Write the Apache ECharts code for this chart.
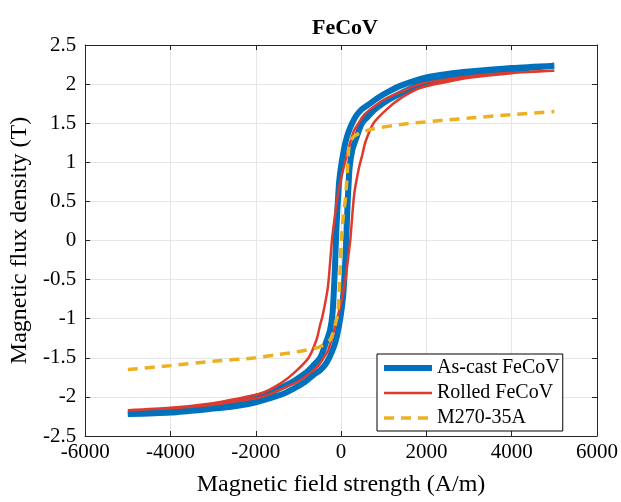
<!DOCTYPE html>
<html>
<head>
<meta charset="utf-8">
<script src="https://cdn.jsdelivr.net/npm/echarts@6/dist/echarts.min.js"></script>
<style>
html,body{margin:0;padding:0;background:#fff;}
#chart{width:621px;height:502px;}
</style>
</head>
<body>
<div id="chart"></div>
<script>
// Axis ticks
const xTicks = [-6000, -4000, -2000, 0, 2000, 4000, 6000];
const yTicks = [-2.5, -2, -1.5, -1, -0.5, 0, 0.5, 1, 1.5, 2, 2.5];
const seriesNames = ['As-cast FeCoV', 'Rolled FeCoV', 'M270-35A'];

// As-cast FeCoV: descending branch (H from +5000 to -5000)
const asCastDesc = [[5000,2.235],[4000,2.205],[3000,2.16],[2500,2.13],[2000,2.085],[1400,1.98],[1100,1.9],[850,1.82],[650,1.74],[490,1.68],[360,1.6],[260,1.5],[170,1.38],[105,1.26],[45,1.1],[0,0.95],[-45,0.75],[-75,0.5],[-100,0.25],[-120,0],[-140,-0.3],[-165,-0.6],[-200,-0.93],[-260,-1.15],[-338,-1.28],[-490,-1.5],[-690,-1.62],[-800,-1.68],[-1150,-1.81],[-1770,-1.96],[-2500,-2.06],[-3500,-2.15],[-5000,-2.22]];
// As-cast FeCoV: ascending branch (H from -5000 to +5000)
const asCastAsc = [[-5000,-2.22],[-4000,-2.2],[-3000,-2.15],[-2500,-2.12],[-2000,-2.07],[-1400,-1.97],[-1100,-1.89],[-850,-1.81],[-650,-1.72],[-490,-1.66],[-360,-1.58],[-260,-1.48],[-170,-1.36],[-105,-1.24],[-45,-1.08],[0,-0.93],[45,-0.73],[75,-0.5],[100,-0.25],[120,0],[140,0.3],[165,0.6],[200,0.93],[260,1.15],[338,1.28],[490,1.5],[690,1.62],[800,1.68],[1150,1.81],[1770,1.97],[2500,2.07],[3500,2.16],[5000,2.235]];

// Rolled FeCoV
const rolledDesc = [[5000,2.17],[4000,2.145],[3000,2.1],[2500,2.06],[1850,2.0],[1400,1.9],[1000,1.8],[690,1.68],[530,1.6],[410,1.5],[300,1.4],[220,1.26],[140,1.1],[60,0.93],[-20,0.75],[-100,0.5],[-160,0.25],[-215,0],[-260,-0.3],[-310,-0.6],[-420,-0.93],[-500,-1.1],[-570,-1.26],[-760,-1.5],[-1075,-1.68],[-1400,-1.82],[-1850,-1.95],[-2500,-2.03],[-3000,-2.08],[-4000,-2.14],[-5000,-2.17]];
const rolledAsc = [[-5000,-2.17],[-4000,-2.145],[-3000,-2.1],[-2500,-2.06],[-1850,-2.0],[-1400,-1.9],[-1000,-1.8],[-690,-1.68],[-530,-1.6],[-410,-1.5],[-300,-1.4],[-220,-1.26],[-140,-1.1],[-60,-0.93],[20,-0.75],[100,-0.5],[160,-0.25],[215,0],[260,0.3],[310,0.6],[420,0.93],[500,1.1],[570,1.26],[760,1.5],[1075,1.68],[1400,1.82],[1850,1.95],[2500,2.03],[3000,2.08],[4000,2.14],[5000,2.17]];

// M270-35A
const m270 = [[-5000,-1.65],[-4000,-1.6],[-3000,-1.545],[-2000,-1.5],[-1500,-1.46],[-1100,-1.43],[-800,-1.4],[-550,-1.37],[-400,-1.33],[-245,-1.26],[-150,-1.1],[-75,-0.92],[-28,-0.46],[5,0],[50,0.3],[105,0.55],[150,0.9],[182,1.18],[230,1.27],[300,1.33],[500,1.39],[765,1.43],[1500,1.49],[2550,1.545],[3000,1.565],[4000,1.61],[5000,1.65]];

const FONT = '"Liberation Serif", "Times New Roman", serif';
const AX = '#262626';
const chart = echarts.init(document.getElementById('chart'), null, {renderer: 'canvas'});

const axisCommon = {
  axisLine: {show: true, onZero: false, lineStyle: {color: AX, width: 1}},
  axisTick: {show: true, inside: true, length: 5, lineStyle: {color: AX, width: 1}},
};
const fmt = v => String(v);

chart.setOption({
  animation: false,
  backgroundColor: '#ffffff',
  title: {
    text: 'FeCoV', left: 340, top: 12, textAlign: 'center',
    textStyle: {fontFamily: FONT, fontWeight: 'bold', fontSize: 22, color: '#000'}
  },
  grid: {left: 83, right: 23, top: 45, bottom: 60, containLabel: false},
  legend: {
    orient: 'vertical', left: 377, top: 354,
    data: [
      {name: seriesNames[0], lineStyle: {width: 6}},
      {name: seriesNames[1], lineStyle: {width: 2.5}},
      {name: seriesNames[2], lineStyle: {width: 3.5}}
    ],
    itemWidth: 48, itemHeight: 14, itemGap: 5,
    itemStyle: {opacity: 0},
    padding: [4, 3, 3, 4],
    borderColor: '#000', borderWidth: 1, backgroundColor: '#fff',
    textStyle: {fontFamily: FONT, fontSize: 20, color: '#000'}
  },
  xAxis: [
    Object.assign({
      type: 'value', min: xTicks[0], max: xTicks[xTicks.length-1], interval: 2000,
      name: 'Magnetic field strength (A/m)', nameLocation: 'middle', nameGap: 37,
      nameTextStyle: {fontFamily: FONT, fontSize: 24, color: '#000'},
      axisLabel: {fontFamily: FONT, fontSize: 21, color: '#000', margin: 6, formatter: fmt},
      splitLine: {show: true, lineStyle: {color: '#e6e6e6', width: 1}}
    }, axisCommon),
    Object.assign({
      type: 'value', position: 'top', min: xTicks[0], max: xTicks[xTicks.length-1], interval: 2000,
      axisLabel: {show: false}, splitLine: {show: false}
    }, axisCommon)
  ],
  yAxis: [
    Object.assign({
      type: 'value', min: yTicks[0], max: yTicks[yTicks.length-1], interval: 0.5,
      name: 'Magnetic flux density (T)', nameLocation: 'middle', nameGap: 45,
      nameTextStyle: {fontFamily: FONT, fontSize: 24, color: '#000'},
      axisLabel: {fontFamily: FONT, fontSize: 21, color: '#000', margin: 9, formatter: fmt},
      splitLine: {show: true, lineStyle: {color: '#e6e6e6', width: 1}}
    }, axisCommon),
    Object.assign({
      type: 'value', position: 'right', min: yTicks[0], max: yTicks[yTicks.length-1], interval: 0.5,
      axisLabel: {show: false}, splitLine: {show: false}
    }, axisCommon)
  ],
  series: [
    {
      name: seriesNames[0], type: 'line', data: asCastDesc.concat(asCastAsc),
      symbol: 'none', smooth: 0.25, z: 2,
      lineStyle: {color: '#0072BD', width: 6}, itemStyle: {color: '#0072BD'}
    },
    {
      name: seriesNames[1], type: 'line', data: rolledDesc.concat(rolledAsc),
      symbol: 'none', smooth: 0.25, z: 3,
      lineStyle: {color: '#DF3B2C', width: 2.5}, itemStyle: {color: '#DF3B2C'}
    },
    {
      name: seriesNames[2], type: 'line', data: m270,
      symbol: 'none', smooth: 0.25, z: 4,
      lineStyle: {color: '#EDB120', width: 3.5, type: [10, 7]}, itemStyle: {color: '#EDB120'}
    }
  ]
});
</script>
</body>
</html>
